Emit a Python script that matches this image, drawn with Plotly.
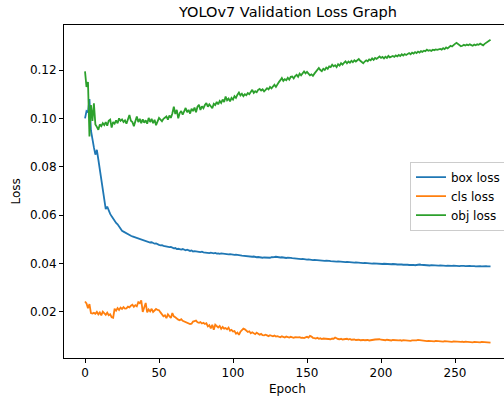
import plotly.graph_objects as go

box_loss = [
    0.1000, 0.1030, 0.1025, 0.1080, 0.0950, 0.0905, 0.0880, 0.0850, 0.0870, 0.0830,
    0.0790, 0.0745, 0.0700, 0.0650, 0.0625, 0.0635, 0.0615, 0.0605, 0.0595, 0.0585,
    0.0578, 0.0568, 0.0562, 0.0553, 0.0548, 0.0535, 0.0532, 0.0528, 0.0524, 0.0521,
    0.0519, 0.0515, 0.0512, 0.0510, 0.0506, 0.0503, 0.0501, 0.0499, 0.0497, 0.0496,
    0.0493, 0.0491, 0.0492, 0.0489, 0.0487, 0.0488, 0.0484, 0.0482, 0.0483, 0.0479,
    0.0477, 0.0475, 0.0476, 0.0473, 0.0471, 0.0472, 0.0469, 0.0468, 0.0469, 0.0465,
    0.0463, 0.0464, 0.0460, 0.0461, 0.0459, 0.0458, 0.0460, 0.0456, 0.0455, 0.0457,
    0.0453, 0.0452, 0.0454, 0.0450, 0.0451, 0.0449, 0.0450, 0.0448, 0.0447, 0.0449,
    0.0446, 0.0445, 0.0447, 0.0444, 0.0443, 0.0445, 0.0443, 0.0442, 0.0444, 0.0441,
    0.0442, 0.0440, 0.0442, 0.0441, 0.0439, 0.0441, 0.0440, 0.0438, 0.0439, 0.0437,
    0.0438, 0.0436, 0.0437, 0.0435, 0.0436, 0.0434, 0.0433, 0.0432, 0.0433, 0.0431,
    0.0430, 0.0431, 0.0429, 0.0428, 0.0429, 0.0427, 0.0426, 0.0427, 0.0425, 0.0426,
    0.0424, 0.0425, 0.0424, 0.0426, 0.0425, 0.0424, 0.0426, 0.0425, 0.0427, 0.0428,
    0.0426, 0.0427, 0.0425, 0.0426, 0.0424, 0.0425, 0.0423, 0.0424, 0.0422, 0.0423,
    0.0422, 0.0421, 0.0422, 0.0420, 0.0419, 0.0420, 0.0418, 0.0419, 0.0417, 0.0418,
    0.0416, 0.0417, 0.0415, 0.0416, 0.0414, 0.0415, 0.0414, 0.0413, 0.0414, 0.0412,
    0.0413, 0.0412, 0.0411, 0.0412, 0.0410, 0.0411, 0.0410, 0.0409, 0.0410, 0.0409,
    0.0408, 0.0409, 0.0408, 0.0407, 0.0408, 0.0407, 0.0406, 0.0407, 0.0406, 0.0405,
    0.0406, 0.0405, 0.0404, 0.0405, 0.0404, 0.0403, 0.0404, 0.0403, 0.0402, 0.0403,
    0.0402, 0.0401, 0.0402, 0.0401, 0.0400, 0.0401, 0.0400, 0.0401, 0.0399, 0.0400,
    0.0399, 0.0398, 0.0399, 0.0398, 0.0399, 0.0397, 0.0398, 0.0397, 0.0398, 0.0396,
    0.0397, 0.0396, 0.0397, 0.0395, 0.0396, 0.0395, 0.0396, 0.0394, 0.0395, 0.0394,
    0.0395, 0.0393, 0.0394, 0.0393, 0.0395, 0.0394, 0.0396, 0.0395, 0.0394, 0.0395,
    0.0393, 0.0394, 0.0393, 0.0392, 0.0393, 0.0392, 0.0393, 0.0391, 0.0392, 0.0391,
    0.0392, 0.0391, 0.0392, 0.0391, 0.0390, 0.0391, 0.0390, 0.0391, 0.0390, 0.0391,
    0.0390, 0.0391, 0.0390, 0.0389, 0.0390, 0.0391, 0.0390, 0.0389, 0.0390, 0.0389,
    0.0390, 0.0389, 0.0390, 0.0389, 0.0388, 0.0389, 0.0388, 0.0389, 0.0388, 0.0389,
    0.0388, 0.0389, 0.0388, 0.0389, 0.0388,
]

cls_loss = [
    0.0243, 0.0235, 0.0215, 0.0232, 0.0195, 0.0193, 0.0196, 0.0192, 0.0200, 0.0190,
    0.0198, 0.0186, 0.0201, 0.0192, 0.0188, 0.0197, 0.0186, 0.0190, 0.0178, 0.0176,
    0.0213, 0.0205, 0.0216, 0.0208, 0.0218, 0.0212, 0.0220, 0.0214, 0.0215, 0.0222,
    0.0219, 0.0226, 0.0230, 0.0221, 0.0228, 0.0223, 0.0240, 0.0236, 0.0248, 0.0200,
    0.0215, 0.0237, 0.0198, 0.0210, 0.0202, 0.0213, 0.0200, 0.0206, 0.0212, 0.0208,
    0.0207, 0.0198, 0.0190, 0.0182, 0.0186, 0.0174, 0.0190, 0.0180, 0.0175, 0.0195,
    0.0182, 0.0178, 0.0172, 0.0168, 0.0166, 0.0170, 0.0163, 0.0160, 0.0158, 0.0155,
    0.0152, 0.0150, 0.0151, 0.0160, 0.0162, 0.0164, 0.0157, 0.0155, 0.0158, 0.0152,
    0.0155, 0.0150, 0.0153, 0.0140, 0.0145, 0.0132, 0.0147, 0.0126, 0.0147, 0.0140,
    0.0136, 0.0142, 0.0130, 0.0138, 0.0131, 0.0133, 0.0128, 0.0135, 0.0122, 0.0126,
    0.0119, 0.0121, 0.0110, 0.0115, 0.0105, 0.0118, 0.0125, 0.0131, 0.0128, 0.0122,
    0.0117, 0.0120, 0.0112, 0.0116, 0.0110, 0.0108, 0.0114, 0.0111, 0.0106, 0.0109,
    0.0104, 0.0103, 0.0106, 0.0103, 0.0100, 0.0104, 0.0101, 0.0099, 0.0102, 0.0098,
    0.0100, 0.0097, 0.0095, 0.0099, 0.0096, 0.0094, 0.0098, 0.0095, 0.0094, 0.0097,
    0.0095, 0.0093, 0.0096, 0.0094, 0.0095, 0.0096, 0.0093, 0.0094, 0.0092, 0.0095,
    0.0097, 0.0094, 0.0101, 0.0098, 0.0093, 0.0092, 0.0090, 0.0093, 0.0089, 0.0091,
    0.0088, 0.0090, 0.0089, 0.0091, 0.0088, 0.0089, 0.0087, 0.0090, 0.0089, 0.0094,
    0.0090, 0.0088, 0.0087, 0.0089, 0.0086, 0.0088, 0.0087, 0.0089, 0.0086, 0.0088,
    0.0085, 0.0087, 0.0086, 0.0084, 0.0086, 0.0085, 0.0083, 0.0085, 0.0084, 0.0083,
    0.0085, 0.0084, 0.0082, 0.0084, 0.0083, 0.0085, 0.0086, 0.0087, 0.0086, 0.0087,
    0.0085, 0.0084, 0.0086, 0.0083, 0.0085, 0.0083, 0.0084, 0.0082, 0.0084, 0.0083,
    0.0082, 0.0084, 0.0082, 0.0083, 0.0081, 0.0083, 0.0082, 0.0081, 0.0083, 0.0082,
    0.0080, 0.0082, 0.0081, 0.0083, 0.0082, 0.0084, 0.0083, 0.0081, 0.0082, 0.0080,
    0.0081, 0.0079, 0.0080, 0.0079, 0.0081, 0.0080, 0.0078, 0.0080, 0.0079, 0.0078,
    0.0080, 0.0079, 0.0077, 0.0079, 0.0078, 0.0077, 0.0079, 0.0078, 0.0076, 0.0078,
    0.0077, 0.0076, 0.0078, 0.0077, 0.0076, 0.0077, 0.0075, 0.0077, 0.0076, 0.0074,
    0.0076, 0.0075, 0.0074, 0.0076, 0.0075, 0.0074, 0.0075, 0.0074, 0.0076, 0.0075,
    0.0074, 0.0073, 0.0075, 0.0074, 0.0073,
]

obj_loss = [
    0.1194, 0.1130, 0.1150, 0.0925, 0.1055, 0.0990, 0.1062, 0.0975, 0.0965, 0.0953,
    0.0975, 0.0968, 0.0980, 0.0972, 0.0985, 0.0970, 0.0990, 0.0995, 0.0962, 0.0985,
    0.0978, 0.0992, 0.0980, 0.1000, 0.0990, 0.0996, 0.0985, 0.0992, 0.0978, 0.0995,
    0.1014, 0.0990, 0.0985, 0.0968, 0.0995, 0.1008, 0.0985, 0.0998, 0.0980, 0.0996,
    0.0982, 0.0992, 0.0978, 0.1002, 0.0985, 0.0998, 0.0980, 0.0994, 0.0972, 0.0990,
    0.1002, 0.0995, 0.0988, 0.0998, 0.1005, 0.1008, 0.0995, 0.1012, 0.1002, 0.1020,
    0.1048, 0.1018, 0.1035, 0.1000, 0.1022, 0.1030, 0.1015, 0.1028, 0.1043, 0.1025,
    0.1035, 0.1020, 0.1040, 0.1030, 0.1045, 0.1025, 0.1048, 0.1056, 0.1035, 0.1050,
    0.1042, 0.1055, 0.1063, 0.1048, 0.1058, 0.1050, 0.1042, 0.1060, 0.1055, 0.1068,
    0.1058, 0.1072, 0.1064, 0.1078, 0.1068, 0.1090, 0.1075, 0.1082, 0.1070, 0.1085,
    0.1078, 0.1092, 0.1085, 0.1098, 0.1107, 0.1095, 0.1102, 0.1092, 0.1100, 0.1096,
    0.1105, 0.1100, 0.1110, 0.1118, 0.1105, 0.1112, 0.1108, 0.1118, 0.1122, 0.1115,
    0.1120, 0.1112, 0.1118, 0.1125, 0.1120, 0.1130, 0.1124, 0.1132, 0.1139, 0.1130,
    0.1142, 0.1150, 0.1158, 0.1167, 0.1155, 0.1162, 0.1158, 0.1168, 0.1160, 0.1172,
    0.1173, 0.1165, 0.1175, 0.1180, 0.1172, 0.1185, 0.1178, 0.1188, 0.1194, 0.1186,
    0.1192, 0.1185, 0.1178, 0.1182, 0.1176, 0.1185, 0.1192, 0.1198, 0.1208, 0.1200,
    0.1195, 0.1205, 0.1200, 0.1210, 0.1205, 0.1215, 0.1212, 0.1222, 0.1215, 0.1220,
    0.1212, 0.1224, 0.1218, 0.1228, 0.1222, 0.1230, 0.1236, 0.1228, 0.1235, 0.1230,
    0.1238, 0.1232, 0.1240, 0.1235, 0.1242, 0.1245, 0.1238, 0.1232, 0.1228, 0.1235,
    0.1240, 0.1236, 0.1244, 0.1240, 0.1248, 0.1242, 0.1250, 0.1246, 0.1252, 0.1256,
    0.1250, 0.1254, 0.1248, 0.1255, 0.1250, 0.1258, 0.1252, 0.1256, 0.1258, 0.1254,
    0.1260, 0.1256, 0.1262, 0.1258, 0.1265, 0.1260, 0.1266, 0.1262, 0.1268, 0.1270,
    0.1265, 0.1272, 0.1268, 0.1274, 0.1270, 0.1276, 0.1272, 0.1278, 0.1275, 0.1280,
    0.1278, 0.1284, 0.1280, 0.1282, 0.1279, 0.1284, 0.1282, 0.1285, 0.1283, 0.1286,
    0.1287, 0.1284, 0.1290, 0.1286, 0.1293, 0.1289, 0.1296, 0.1300, 0.1297, 0.1305,
    0.1308, 0.1312, 0.1306, 0.1302, 0.1298, 0.1300, 0.1304, 0.1301, 0.1305, 0.1302,
    0.1306, 0.1303, 0.1300, 0.1305, 0.1302, 0.1306, 0.1304, 0.1309, 0.1305, 0.1302,
    0.1308, 0.1312, 0.1316, 0.1320, 0.1325,
]

series_names = ["box loss", "cls loss", "obj loss"]
series_colors = ["#1f77b4", "#ff7f0e", "#2ca02c"]
x_ticks = [0, 50, 100, 150, 200, 250]
y_ticks = [0.02, 0.04, 0.06, 0.08, 0.10, 0.12]

FONT = "DejaVu Sans"
fig = go.Figure()
for name, vals, col in zip(series_names, [box_loss, cls_loss, obj_loss], series_colors):
    fig.add_trace(go.Scatter(
        x=list(range(len(vals))), y=vals, mode="lines", name=name,
        line=dict(color=col, width=1.8),
    ))

fig.update_layout(
    width=504, height=400,
    margin=dict(l=64, r=0, t=25, b=42, autoexpand=False),
    paper_bgcolor="white", plot_bgcolor="white",
    font=dict(family=FONT, size=12, color="black"),
    showlegend=True,
    legend=dict(
        x=(410 - 64) / 440, xanchor="left", y=(358 - 161.7) / 333, yanchor="top",
        bgcolor="rgba(255,255,255,0.8)", bordercolor="#cccccc", borderwidth=1,
        font=dict(family=FONT, size=12, color="black"),
        tracegroupgap=0, itemwidth=30,
    ),
    annotations=[
        dict(text="YOLOv7 Validation Loss Graph", xref="paper", yref="paper",
             x=(287 - 64) / 440, y=1, yshift=13, xanchor="center", yanchor="middle",
             showarrow=False, font=dict(family=FONT, size=14.5, color="black")),
        dict(text="Epoch", xref="paper", yref="paper", x=(287.5 - 64) / 440, y=0,
             yshift=-31, xanchor="center", yanchor="middle", showarrow=False,
             font=dict(family=FONT, size=12, color="black")),
        dict(text="Loss", xref="paper", yref="paper", x=0, xshift=-49, y=0.5,
             xanchor="center", yanchor="middle", textangle=-90, showarrow=False,
             font=dict(family=FONT, size=12, color="black")),
    ],
)
fig.update_xaxes(
    range=[-14.2, 283.1], tickmode="array", tickvals=x_ticks,
    ticks="outside", ticklen=4, tickwidth=1, tickcolor="black",
    showline=True, linecolor="black", linewidth=1, mirror=True,
    showgrid=False, zeroline=False,
)
fig.update_yaxes(
    range=[0.00095, 0.1386], tickmode="array", tickvals=y_ticks, tickformat=".2f",
    ticks="outside", ticklen=4, tickwidth=1, tickcolor="black",
    showline=True, linecolor="black", linewidth=1,
    showgrid=False, zeroline=False,
)
fig.write_html(
    "out.html",
    config={"displayModeBar": False},
    post_script="document.body.style.margin='0';document.body.style.overflow='hidden';",
)
